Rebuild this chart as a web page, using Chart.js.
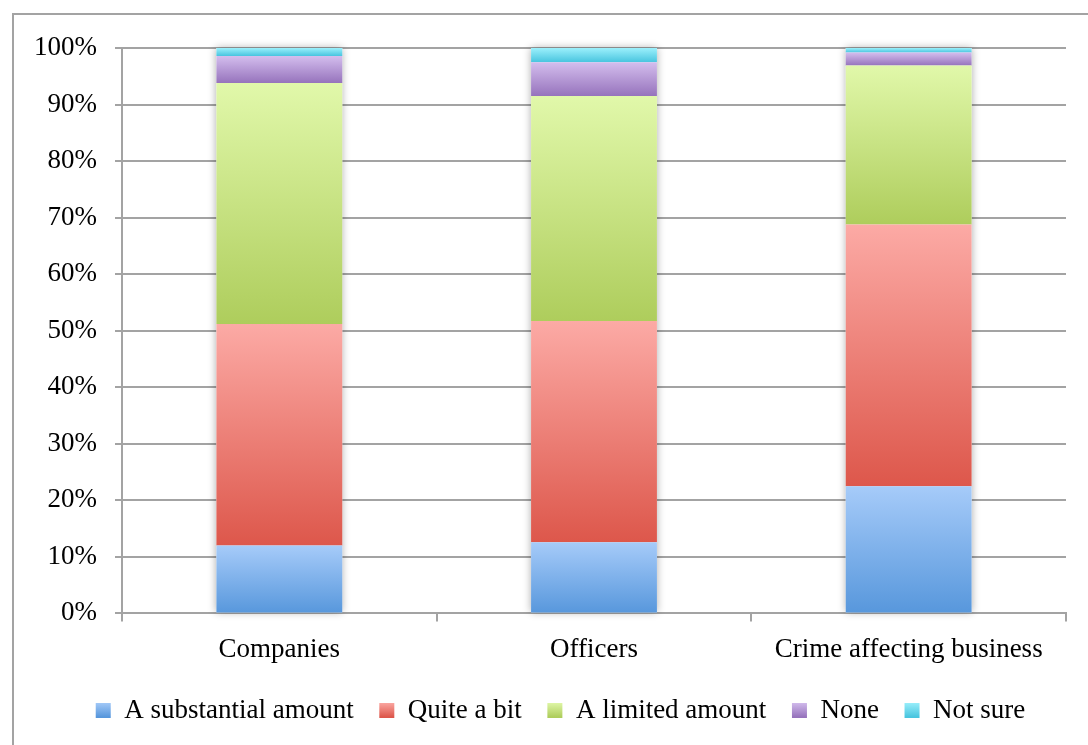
<!DOCTYPE html>
<html>
<head>
<meta charset="utf-8">
<title>Stacked response shares</title>
<script src="https://cdn.jsdelivr.net/npm/chart.js@4/dist/chart.umd.min.js"></script>
<style>
  html, body { margin: 0; padding: 0; background: #ffffff; }
  canvas { display: block; }
</style>
</head>
<body>
<canvas id="chart" width="1088" height="745"></canvas>
<script>
// Categories along the x axis
const categories = ['Companies', 'Officers', 'Crime affecting business'];

// Response shares (percent), one array per answer
const substantialAmount = [12.0, 12.6, 22.5];
const quiteABit        = [39.2, 39.1, 46.3];
const limitedAmount    = [42.6, 39.8, 28.1];
const noneAtAll        = [4.8, 6.0, 2.3];
const notSure          = [1.4, 2.5, 0.8];

const seriesNames = ['A substantial amount', 'Quite a bit', 'A limited amount', 'None', 'Not sure'];
const seriesValues = [substantialAmount, quiteABit, limitedAmount, noneAtAll, notSure];

// Y axis tick values
const yTicks = [0, 10, 20, 30, 40, 50, 60, 70, 80, 90, 100];

// Light-to-dark vertical gradient stops for each answer
const gradientStops = [
  ['#a6cbf9', '#5797dc'],
  ['#fcaaa5', '#dd574b'],
  ['#e1f8aa', '#aecd5c'],
  ['#d4beee', '#9673bc'],
  ['#9cf0fc', '#49c5df']
];

const FONT = '"Liberation Serif", "Times New Roman", serif';
const FONT_SIZE = 27;
Chart.defaults.font.family = FONT;
Chart.defaults.font.size = FONT_SIZE;
Chart.defaults.color = '#000000';

function segmentFill(ctx) {
  const d = ctx.datasetIndex;
  const chart = ctx.chart;
  if (ctx.type !== 'data' || !chart.chartArea) return gradientStops[d][1];
  const i = ctx.dataIndex;
  let base = 0;
  for (let k = 0; k < d; k++) base += seriesValues[k][i];
  const top = base + seriesValues[d][i];
  const y = chart.scales.y;
  const g = chart.ctx.createLinearGradient(0, y.getPixelForValue(top), 0, y.getPixelForValue(base));
  g.addColorStop(0, gradientStops[d][0]);
  g.addColorStop(1, gradientStops[d][1]);
  return g;
}

function legendFill(chart, d) {
  const g = chart.ctx.createLinearGradient(0, 702, 0, 717);
  g.addColorStop(0, gradientStops[d][0]);
  g.addColorStop(1, gradientStops[d][1]);
  return g;
}

// Outer frame of the chart
const framePlugin = {
  id: 'frame',
  beforeDraw(chart) {
    const c = chart.ctx;
    c.save();
    c.strokeStyle = '#a3a3a3';
    c.lineWidth = 2;
    c.beginPath();
    c.moveTo(13, chart.height + 5);
    c.lineTo(13, 14);
    c.lineTo(chart.width + 5, 14);
    c.stroke();
    c.restore();
  }
};

// The frame is wider than the canvas, so the legend row is centred on the frame
const legendShiftPlugin = {
  id: 'legendShift',
  afterLayout(chart) {
    if (chart.legend) {
      chart.legend.left += 27.5;
      chart.legend.right += 27.5;
    }
  }
};

// Soft shadow behind each whole stacked column
const columnShadowPlugin = {
  id: 'columnShadow',
  beforeDatasetsDraw(chart) {
    const c = chart.ctx;
    const first = chart.getDatasetMeta(0).data;
    const last = chart.getDatasetMeta(seriesValues.length - 1).data;
    c.save();
    c.shadowColor = 'rgba(0,0,0,0.32)';
    c.shadowBlur = 8;
    c.fillStyle = '#ffffff';
    first.forEach((bottomBar, i) => {
      const topBar = last[i];
      const w = bottomBar.width;
      c.fillRect(bottomBar.x - w / 2, topBar.y, w, bottomBar.base - topBar.y);
    });
    c.restore();
  }
};

new Chart(document.getElementById('chart'), {
  type: 'bar',
  data: {
    labels: categories,
    datasets: seriesNames.map((name, d) => ({
      label: name,
      data: seriesValues[d],
      backgroundColor: segmentFill,
      borderWidth: 0,
      categoryPercentage: 1,
      barPercentage: 0.4
    }))
  },
  options: {
    responsive: false,
    animation: false,
    layout: { padding: { top: 48, left: 0, right: 22, bottom: 11 } },
    plugins: {
      tooltip: { enabled: false },
      legend: {
        position: 'bottom',
        labels: {
          boxWidth: 15,
          boxHeight: 15,
          padding: 25.6,
          font: { family: FONT, size: FONT_SIZE },
          generateLabels(chart) {
            return seriesNames.map((name, d) => ({
              text: name,
              fillStyle: legendFill(chart, d),
              strokeStyle: 'rgba(0,0,0,0)',
              lineWidth: 0,
              hidden: false,
              datasetIndex: d,
              fontColor: '#000000'
            }));
          }
        }
      }
    },
    scales: {
      x: {
        stacked: true,
        afterFit(s) { s.height = 58; },
        grid: {
          offset: true,
          drawOnChartArea: false,
          drawTicks: true,
          tickLength: 8,
          color: '#a3a3a3',
          lineWidth: 2
        },
        border: { display: true, color: '#a3a3a3', width: 2 },
        ticks: { padding: 12, maxRotation: 0, font: { family: FONT, size: FONT_SIZE } }
      },
      y: {
        stacked: true,
        min: 0,
        max: 100,
        afterFit(s) { s.width = 122; },
        afterBuildTicks(s) { s.ticks = yTicks.map(v => ({ value: v })); },
        grid: { color: '#a3a3a3', lineWidth: 2, tickLength: 7 },
        border: { display: true, color: '#a3a3a3', width: 2 },
        ticks: {
          padding: 18,
          font: { family: FONT, size: FONT_SIZE },
          callback: v => v + '%'
        }
      }
    }
  },
  plugins: [framePlugin, legendShiftPlugin, columnShadowPlugin]
});
</script>
</body>
</html>
